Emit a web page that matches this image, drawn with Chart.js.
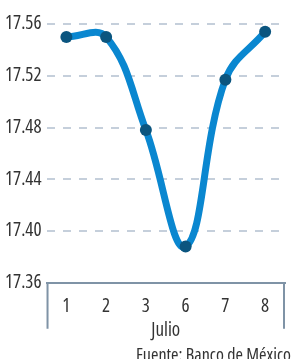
<!DOCTYPE html>
<html>
<head>
<meta charset="utf-8">
<script src="https://cdn.jsdelivr.net/npm/chart.js@4"></script>
<style>
  html, body { margin: 0; padding: 0; background: #fff; }
  #wrap { width: 291px; height: 359px; }
</style>
</head>
<body>
<div id="wrap"><canvas id="tipoCambio"></canvas></div>
<script>
const dias = ["1", "2", "3", "6", "7", "8"];
const tipoCambio = [17.550, 17.550, 17.478, 17.388, 17.517, 17.554];
const ejeMin = 17.36;
const ejeMax = 17.56;
const ejePaso = 0.04;
const mesLabel = "Julio";
const fuente = "Fuente: Banco de México";

// condensed Open Sans (weight string carries the stretch keyword)
const fontFam = "'Open Sans', sans-serif";
const fontW = "400 condensed";

// bracket lines under the x axis
const bracketPlugin = {
  id: "bracket",
  afterDraw(chart) {
    const c = chart.ctx;
    const area = chart.chartArea;
    c.save();
    c.strokeStyle = "#7f93a6";
    c.lineWidth = 2;
    c.beginPath();
    c.moveTo(area.left + 1, area.bottom);
    c.lineTo(area.left + 1, area.bottom + 46);
    c.moveTo(area.right - 1, area.bottom);
    c.lineTo(area.right - 1, area.bottom + 46);
    c.stroke();
    c.restore();
  }
};

new Chart(document.getElementById("tipoCambio").getContext("2d"), {
  type: "line",
  data: {
    labels: dias,
    datasets: [{
      data: tipoCambio,
      borderColor: "#0a87d0",
      borderWidth: 7,
      tension: 0.4,
      pointRadius: 6,
      pointBackgroundColor: "#0b557f",
      pointBorderWidth: 0,
      clip: false
    }]
  },
  options: {
    responsive: true,
    maintainAspectRatio: false,
    animation: false,
    layout: { padding: { top: 24, right: 0, left: 0, bottom: -8 } },
    plugins: {
      legend: { display: false },
      tooltip: { enabled: false },
      subtitle: {
        display: true,
        text: fuente,
        position: "bottom",
        align: "end",
        color: "#333",
        font: { family: fontFam, weight: fontW, size: 18 },
        padding: { top: 3, bottom: 0 }
      }
    },
    scales: {
      x: {
        offset: true,
        grid: { display: false },
        border: { display: true, color: "#7f93a6", width: 2 },
        ticks: { color: "#333", font: { family: fontFam, weight: fontW, size: 19 }, padding: 4 },
        title: {
          display: true,
          text: mesLabel,
          color: "#333",
          font: { family: fontFam, weight: fontW, size: 19 },
          padding: { top: -2, bottom: 0 }
        }
      },
      y: {
        min: ejeMin,
        max: ejeMax,
        ticks: {
          stepSize: ejePaso,
          color: "#333",
          font: { family: fontFam, weight: fontW, size: 19 },
          padding: 5,
          callback: (v) => v.toFixed(2)
        },
        grid: { color: "#c5cfdb", lineWidth: 2, drawTicks: false },
        border: { display: false, dash: [8, 8] }
      }
    }
  },
  plugins: [bracketPlugin]
});
</script>
</body>
</html>
